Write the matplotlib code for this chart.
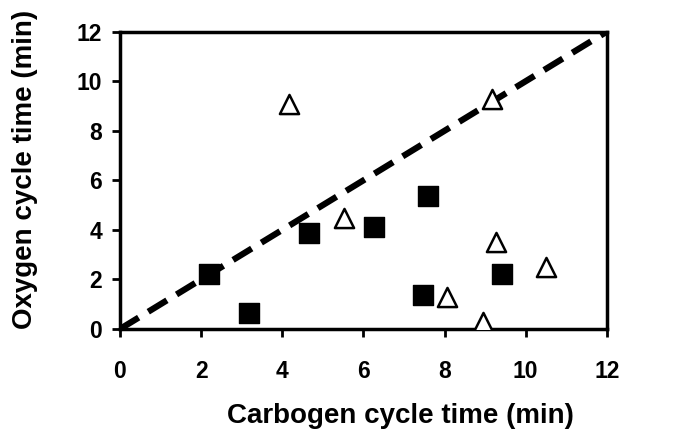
import matplotlib
matplotlib.use("Agg")
import matplotlib.pyplot as plt

sq_x = [2.2, 3.19, 4.67, 6.26, 7.58, 7.47, 9.41]
sq_y = [2.2, 0.66, 3.86, 4.13, 5.38, 1.36, 2.23]
tri_x = [4.17, 9.16, 5.51, 9.27, 10.51, 8.05, 8.95]
tri_y = [9.09, 9.27, 4.47, 3.52, 2.49, 1.30, 0.29]
line_x = [0, 12]
line_y = [0, 12]
ticks = [0, 2, 4, 6, 8, 10, 12]

plt.rcParams['font.family'] = ['Liberation Sans', 'DejaVu Sans']
fig = plt.figure(figsize=(6.88, 4.4), dpi=100)
ax = fig.add_axes([0.1744, 0.2523, 0.7076, 0.6757])
ax.plot(line_x, line_y, color='black', lw=4.5, ls=(0, (3.5, 1.8)), zorder=2)
ax.scatter(sq_x, sq_y, marker='s', s=190, color='black', zorder=3)
ax.scatter(tri_x, tri_y, marker='^', s=190, facecolor='white', edgecolor='black', linewidths=1.8, zorder=4)
ax.set_xlim(0, 12)
ax.set_ylim(0, 12)
ax.set_xticks(ticks)
ax.set_yticks(ticks)
for s in ax.spines.values():
    s.set_linewidth(2.5)
ax.tick_params(width=2, length=6, direction='out', labelsize=16.5, pad=16)
for lab in ax.get_xticklabels() + ax.get_yticklabels():
    lab.set_fontweight('bold')
ax.tick_params(axis='y', pad=7)
ax.set_xlabel('Carbogen cycle time (min)', fontsize=20, fontweight='bold', va='center')
ax.set_ylabel('Oxygen cycle time (min)', fontsize=20, fontweight='bold', va='center')
ax.xaxis.set_label_coords(0.577, -0.293)
ax.yaxis.set_label_coords(-0.195, 0.538)
fig.savefig('out.png', dpi=100)
